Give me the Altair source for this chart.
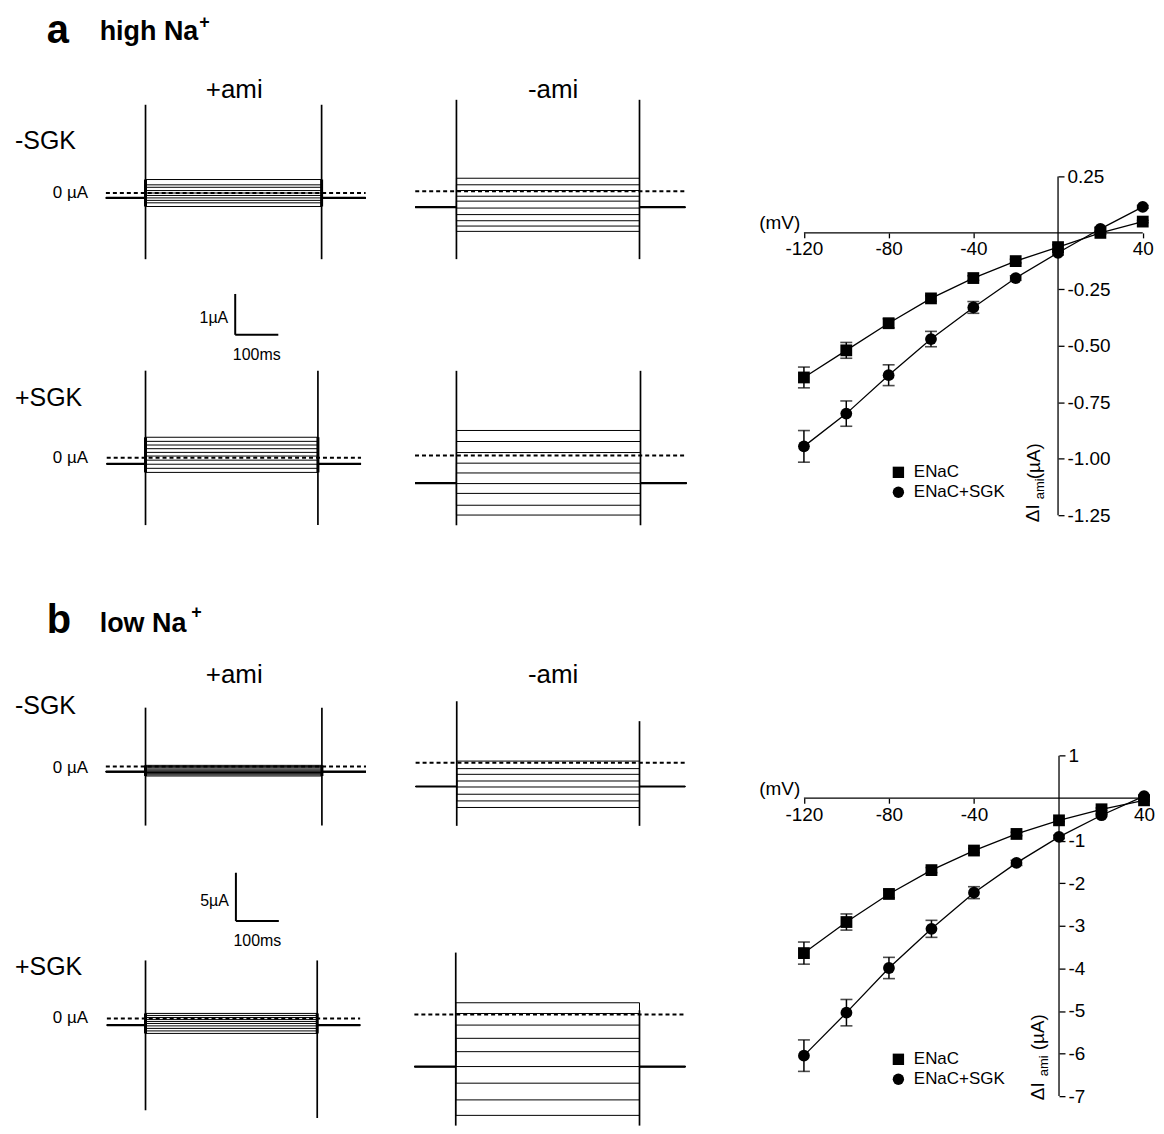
import altair as alt
import pandas as pd

FONT = "Liberation Sans"

# ---------------- data ----------------
VOLTAGES = [-120, -100, -80, -60, -40, -20, 0, 20, 40]
SERIES = ["ENaC", "ENaC+SGK"]

HI_ENAC = [-0.64, -0.52, -0.40, -0.29, -0.20, -0.125, -0.063, 0.0, 0.05]
HI_ENAC_SEM = [0.046, 0.035, 0.02, 0.012, 0.01, 0.008, 0.01, 0.006, 0.005]
HI_SGK = [-0.945, -0.80, -0.63, -0.47, -0.33, -0.20, -0.088, 0.018, 0.115]
HI_SGK_SEM = [0.07, 0.056, 0.046, 0.034, 0.026, 0.01, 0.01, 0.008, 0.006]
LO_ENAC = [-3.64, -2.91, -2.25, -1.69, -1.23, -0.84, -0.52, -0.26, -0.05]
LO_ENAC_SEM = [0.26, 0.19, 0.09, 0.06, 0.05, 0.04, 0.03, 0.03, 0.02]
LO_SGK = [-6.05, -5.04, -3.99, -3.07, -2.22, -1.52, -0.91, -0.40, 0.05]
LO_SGK_SEM = [0.37, 0.31, 0.25, 0.20, 0.14, 0.06, 0.04, 0.03, 0.02]

HI_YTICKS = [0.25, -0.25, -0.5, -0.75, -1.0, -1.25]
LO_YTICKS = [1, -1, -2, -3, -4, -5, -6, -7]
XTICKS = [-120, -80, -40, 40]
HI_YAXIS_RANGE = [-1.25, 0.25]
LO_YAXIS_RANGE = [-7, 1]
XAXIS_RANGE = [-120, 40]

# voltage-clamp protocol (ms): start, pulse on, pulse off, end
PROTOCOL_MS = [0, 90, 490, 590]

# steady-state sweep currents (µA) and holding currents
HI_MSGK_PAMI = [0.33, 0.20, 0.14, 0.06, 0.0, -0.06, -0.12, -0.18, -0.24, -0.33]
HI_MSGK_PAMI_HOLD = -0.12
HI_MSGK_MAMI = [0.32, 0.16, 0.02, -0.12, -0.24, -0.41, -0.57, -0.72, -0.85, -0.98]
HI_MSGK_MAMI_HOLD = -0.39
HI_PSGK_PAMI = [0.50, 0.40, 0.31, 0.22, 0.13, 0.04, -0.06, -0.16, -0.26, -0.36]
HI_PSGK_PAMI_HOLD = -0.15
HI_PSGK_MAMI = [0.61, 0.34, 0.07, -0.19, -0.43, -0.69, -0.93, -1.22, -1.46]
HI_PSGK_MAMI_HOLD = -0.68
LO_MSGK_PAMI = [0.13, 0.0, -0.12, -0.25, -0.37, -0.49, -0.61, -0.73, -0.85, -0.97]
LO_MSGK_PAMI_HOLD = -0.52
LO_MSGK_MAMI = [0.16, -0.62, -1.21, -1.90, -2.52, -3.27, -3.96, -4.64]
LO_MSGK_MAMI_HOLD = -2.47
LO_PSGK_PAMI = [0.52, 0.31, 0.10, -0.10, -0.31, -0.52, -0.77, -1.03, -1.29, -1.55]
LO_PSGK_PAMI_HOLD = -0.69
LO_PSGK_MAMI = [1.21, 0.10, -1.10, -2.47, -3.85, -5.39, -7.11, -8.84, -10.44]
LO_PSGK_MAMI_HOLD = -5.39

# capacitive transients [on top, on bottom, off top, off bottom] (µA)
HI_MSGK_PAMI_SPIKE = [2.16, -1.62, 2.16, -1.62]
HI_MSGK_MAMI_SPIKE = [2.24, -1.66, 2.24, -1.66]
HI_PSGK_PAMI_SPIKE = [2.13, -1.65, 2.13, -1.65]
HI_PSGK_MAMI_SPIKE = [2.07, -1.71, 2.07, -1.71]
LO_MSGK_PAMI_SPIKE = [6.1, -6.1, 6.1, -6.1]
LO_MSGK_MAMI_SPIKE = [6.35, -6.54, 4.29, -6.54]
LO_PSGK_PAMI_SPIKE = [6.0, -9.5, 6.0, -10.3]
LO_PSGK_MAMI_SPIKE = [6.4, -11.5, 0.43, -11.5]

# scale bars (µA, ms)
HI_SCALEBAR = [1, 100]
LO_SCALEBAR = [5, 100]

# ---------------- layout (pixels) ----------------
def geom(left, top, w, h, on, off, zero, ppu):
    return dict(left=left, top=top, w=w, h=h, on=on, off=off, zero=zero, ppu=ppu)

G_A11 = geom(8, 8, 387, 262, 146, 322.7, 191.7, 41)
G_A12 = geom(395, 8, 317, 262, 458, 641.7, 190, 41)
G_A21 = geom(8, 270, 387, 305, 146, 319, 457.3, 41)
G_A22 = geom(395, 270, 317, 305, 458, 642.7, 455, 41)
G_B11 = geom(8, 575, 387, 275, 146, 323, 767.3, 9.7)
G_B12 = geom(395, 575, 317, 275, 458.3, 641.7, 763.3, 9.7)
G_B21 = geom(8, 850, 387, 282, 146, 318.3, 1020, 9.7)
G_B22 = geom(395, 850, 317, 282, 457.3, 641.7, 1016, 9.7)

G_IVA = dict(left=712, top=8, w=448, h=567, xm120=806.7, x40=1146.7, zero=231.7, ppu=226.7)
G_IVB = dict(left=712, top=575, w=448, h=557, xm120=806.7, x40=1148, zero=799, ppu=42.7)


def lbl(text, x, y, size, weight="normal", align="left", baseline="middle", angle=0):
    return alt.Chart(pd.DataFrame({"s": [text]})).mark_text(
        align=align, baseline=baseline, fontSize=size, fontWeight=weight,
        angle=angle, color="black", font=FONT
    ).encode(x=alt.value(x), y=alt.value(y), text="s:N")


def trace_cell(levels, hold, spikes, g, texts, scalebar=None, lens=False):
    t0, ton, toff, tend = PROTOCOL_MS
    ppms = (g["off"] - g["on"]) / (toff - ton)
    xd = [ton - (g["on"] - g["left"]) / ppms, ton + (g["left"] + g["w"] - g["on"]) / ppms]
    yd = [(g["zero"] - g["top"] - g["h"]) / g["ppu"], (g["zero"] - g["top"]) / g["ppu"]]
    xs = alt.Scale(domain=xd, nice=False, zero=False)
    ys = alt.Scale(domain=yd, nice=False, zero=False)

    def X(f):
        return alt.X(f, type="quantitative", scale=xs, axis=None)

    def Y(f):
        return alt.Y(f, type="quantitative", scale=ys, axis=None)

    rows = []
    for s, lev in enumerate(levels):
        pts = [(t0, hold), (ton, hold), (ton, lev), (toff, lev), (toff, hold), (tend, hold)]
        for k, (t, v) in enumerate(pts):
            rows.append({"sweep": s, "k": k, "t": t, "i": v})
    sweeps = alt.Chart(pd.DataFrame(rows)).mark_line(color="black", strokeWidth=1).encode(
        x=X("t"), y=Y("i"), detail="sweep:N", order="k:Q")
    base = alt.Chart(pd.DataFrame({"t": [t0, toff], "t2": [ton, tend], "i": [hold, hold]})).mark_rule(
        color="black", strokeWidth=2.2).encode(x=X("t"), x2="t2:Q", y=Y("i"))
    sp = alt.Chart(pd.DataFrame({"t": [ton, toff], "hi": [spikes[0], spikes[2]],
                                 "lo": [spikes[1], spikes[3]]})).mark_rule(
        color="black", strokeWidth=1.7).encode(x=X("t"), y=Y("lo"), y2="hi:Q")
    zero = alt.Chart(pd.DataFrame({"t": [t0], "t2": [tend], "i": [0.0]})).mark_rule(
        color="black", strokeWidth=2, strokeDash=[4, 3]).encode(x=X("t"), x2="t2:Q", y=Y("i"))
    layers = [sweeps, base, sp]
    if lens:
        band = alt.Chart(pd.DataFrame({"t": [ton, toff], "hi": [max(levels), max(levels)],
                                       "lo": [min(levels), min(levels)]})).mark_rule(
            color="black", strokeWidth=3).encode(x=X("t"), y=Y("lo"), y2="hi:Q")
        layers.append(band)
    layers.append(zero)

    if scalebar is not None:
        px, py, amp, ms, amp_txt = scalebar
        tc = ton + (px - g["on"]) / ppms
        ic = (g["zero"] - py) / g["ppu"]
        sb = alt.Chart(pd.DataFrame({"t": [tc, tc], "t2": [tc, tc + ms],
                                     "i": [ic, ic], "i2": [ic + amp, ic]})).mark_rule(
            color="black", strokeWidth=2).encode(x=X("t"), x2="t2:Q", y=Y("i"), y2="i2:Q")
        t1 = alt.Chart(pd.DataFrame({"t": [tc], "i": [ic + amp * 0.42], "s": [amp_txt]})).mark_text(
            align="right", baseline="middle", dx=-7, fontSize=16, font=FONT, color="black").encode(
            x=X("t"), y=Y("i"), text="s:N")
        t2 = alt.Chart(pd.DataFrame({"t": [tc + ms / 2], "i": [ic], "s": [f"{ms}ms"]})).mark_text(
            align="center", baseline="middle", dy=20, fontSize=16, font=FONT, color="black").encode(
            x=X("t"), y=Y("i"), text="s:N")
        layers += [sb, t1, t2]

    layers += texts
    return alt.layer(*layers).properties(width=g["w"], height=g["h"])


MINUS_FIX = "replace(datum.label, '\u2212', '-')"


def iv_cell(enac, enac_sem, sgk, sgk_sem, yticks, yfmt, yrange, g, legend_xy, texts):
    ppx = (g["x40"] - g["xm120"]) / 160.0
    xd = [-120 - (g["xm120"] - g["left"]) / ppx, -120 + (g["left"] + g["w"] - g["xm120"]) / ppx]
    yd = [(g["zero"] - g["top"] - g["h"]) / g["ppu"], (g["zero"] - g["top"]) / g["ppu"]]
    xs = alt.Scale(domain=xd, nice=False, zero=False)
    ys = alt.Scale(domain=yd, nice=False, zero=False)
    x_zero_px = (0 - xd[0]) * ppx
    y_zero_px = g["zero"] - g["top"]
    xaxis = alt.Axis(orient="bottom", offset=-(g["h"] - y_zero_px), values=XTICKS, domain=False,
                     grid=False, tickSize=5, tickWidth=1.3, tickColor="black", labelFontSize=19,
                     labelColor="black", labelPadding=2, labelFlush=False, labelOverlap=False,
                     labelFont=FONT, title=None, labelExpr=MINUS_FIX)
    yaxis = alt.Axis(orient="right", offset=-(g["w"] - x_zero_px), values=yticks, format=yfmt,
                     domain=False, grid=False, tickSize=6, tickWidth=1.3, tickColor="black",
                     labelFontSize=19, labelColor="black", labelPadding=3, labelFlush=False,
                     labelOverlap=False, labelFont=FONT, title=None, labelExpr=MINUS_FIX)

    def X(f):
        return alt.X(f, type="quantitative", scale=xs, axis=xaxis)

    def Y(f):
        return alt.Y(f, type="quantitative", scale=ys, axis=yaxis)

    rows = []
    for name, vals, sem in [(SERIES[0], enac, enac_sem), (SERIES[1], sgk, sgk_sem)]:
        for v, m, e in zip(VOLTAGES, vals, sem):
            rows.append({"series": name, "volt": v, "val": m, "lo": m - e, "hi": m + e})
    df = pd.DataFrame(rows)

    yline = alt.Chart(pd.DataFrame({"volt": [0], "lo": [yrange[0]], "hi": [yrange[1]]})).mark_rule(
        color="black", strokeWidth=1.3).encode(x=X("volt"), y=Y("lo"), y2="hi:Q")
    xline = alt.Chart(pd.DataFrame({"volt": [XAXIS_RANGE[0]], "v2": [XAXIS_RANGE[1]], "val": [0]})).mark_rule(
        color="black", strokeWidth=1.3).encode(x=X("volt"), x2="v2:Q", y=Y("val"))
    line = alt.Chart(df).mark_line(color="black", strokeWidth=1.3).encode(
        x=X("volt"), y=Y("val"), detail="series:N")
    err = alt.Chart(df).mark_rule(color="black", strokeWidth=1.5).encode(
        x=X("volt"), y=Y("lo"), y2="hi:Q")
    cap_lo = alt.Chart(df).mark_tick(color="black", orient="horizontal", size=12, thickness=1.6).encode(
        x=X("volt"), y=Y("lo"))
    cap_hi = alt.Chart(df).mark_tick(color="black", orient="horizontal", size=12, thickness=1.6).encode(
        x=X("volt"), y=Y("hi"))
    pts = alt.Chart(df).mark_point(filled=True, size=140, color="black", opacity=1).encode(
        x=X("volt"), y=Y("val"),
        shape=alt.Shape("series:N", scale=alt.Scale(domain=SERIES, range=["square", "circle"]),
                        legend=alt.Legend(orient="none", legendX=legend_xy[0], legendY=legend_xy[1],
                                          title=None, labelFontSize=17, labelFont=FONT,
                                          labelColor="black", symbolSize=130, symbolFillColor="black",
                                          symbolStrokeWidth=0, symbolOpacity=1, padding=0,
                                          rowPadding=2, labelOffset=7)))
    layers = [yline, xline, line, err, cap_lo, cap_hi, pts] + texts
    return alt.layer(*layers).properties(width=g["w"], height=g["h"])


# ---------------- panels ----------------
A11 = trace_cell(HI_MSGK_PAMI, HI_MSGK_PAMI_HOLD, HI_MSGK_PAMI_SPIKE, G_A11, [
    lbl("a", 39, 33, 40, "bold", baseline="alphabetic"),
    lbl("high Na", 92, 30, 27, "bold", baseline="alphabetic"),
    lbl("+", 192, 13, 18, "bold"),
    lbl("+ami", 227, 80, 26, align="center"),
    lbl("-SGK", 7, 132, 25),
    lbl("0 µA", 45, 184, 17),
], lens=True)
A12 = trace_cell(HI_MSGK_MAMI, HI_MSGK_MAMI_HOLD, HI_MSGK_MAMI_SPIKE, G_A12, [
    lbl("-ami", 160, 80, 26, align="center"),
])
A21 = trace_cell(HI_PSGK_PAMI, HI_PSGK_PAMI_HOLD, HI_PSGK_PAMI_SPIKE, G_A21, [
    lbl("+SGK", 7, 127, 25),
    lbl("0 µA", 45, 188, 17),
], scalebar=(236, 334, HI_SCALEBAR[0], HI_SCALEBAR[1], "1µA"), lens=True)
A22 = trace_cell(HI_PSGK_MAMI, HI_PSGK_MAMI_HOLD, HI_PSGK_MAMI_SPIKE, G_A22, [])

B11 = trace_cell(LO_MSGK_PAMI, LO_MSGK_PAMI_HOLD, LO_MSGK_PAMI_SPIKE, G_B11, [
    lbl("b", 39, 58, 40, "bold", baseline="alphabetic"),
    lbl("low Na", 92, 57, 27, "bold", baseline="alphabetic"),
    lbl("+", 184, 38, 18, "bold"),
    lbl("+ami", 227, 100, 26, align="center"),
    lbl("-SGK", 7, 131, 25),
    lbl("0 µA", 45, 194, 17),
], lens=True)
B12 = trace_cell(LO_MSGK_MAMI, LO_MSGK_MAMI_HOLD, LO_MSGK_MAMI_SPIKE, G_B12, [
    lbl("-ami", 160, 100, 26, align="center"),
])
B21 = trace_cell(LO_PSGK_PAMI, LO_PSGK_PAMI_HOLD, LO_PSGK_PAMI_SPIKE, G_B21, [
    lbl("+SGK", 7, 118, 25),
    lbl("0 µA", 45, 170, 17),
], scalebar=(236.7, 922.3, LO_SCALEBAR[0], LO_SCALEBAR[1], "5µA"), lens=True)
B22 = trace_cell(LO_PSGK_MAMI, LO_PSGK_MAMI_HOLD, LO_PSGK_MAMI_SPIKE, G_B22, [])

IVA = iv_cell(HI_ENAC, HI_ENAC_SEM, HI_SGK, HI_SGK_SEM, HI_YTICKS, ".2f", HI_YAXIS_RANGE, G_IVA,
              (181, 455.5), [
                  lbl("(mV)", 91, 214, 19, align="right"),
                  lbl("ΔI", 325, 514, 19, angle=270),
                  lbl("ami", 331.5, 491, 13, angle=270),
                  lbl("(µA)", 326, 471, 19, angle=270),
              ])
IVB = iv_cell(LO_ENAC, LO_ENAC_SEM, LO_SGK, LO_SGK_SEM, LO_YTICKS, "d", LO_YAXIS_RANGE, G_IVB,
              (181, 477.5), [
                  lbl("(mV)", 91, 215, 19, align="right"),
                  lbl("ΔI", 330, 527, 19, angle=270),
                  lbl("ami", 336, 503, 13, angle=270),
                  lbl("(µA)", 330, 477, 19, angle=270),
              ])


def hc(*c):
    return alt.hconcat(*c, spacing=0).resolve_scale(shape="independent").resolve_legend(shape="independent")


def vc(*c):
    return alt.vconcat(*c, spacing=0).resolve_scale(shape="independent").resolve_legend(shape="independent")


secA = hc(vc(hc(A11, A12), hc(A21, A22)), IVA)
secB = hc(vc(hc(B11, B12), hc(B21, B22)), IVB)

chart = vc(secA, secB).properties(padding=0).configure(
    font=FONT, view=alt.ViewConfig(strokeWidth=0))

chart.save("out.html", embed_options={"renderer": "svg", "actions": False})
